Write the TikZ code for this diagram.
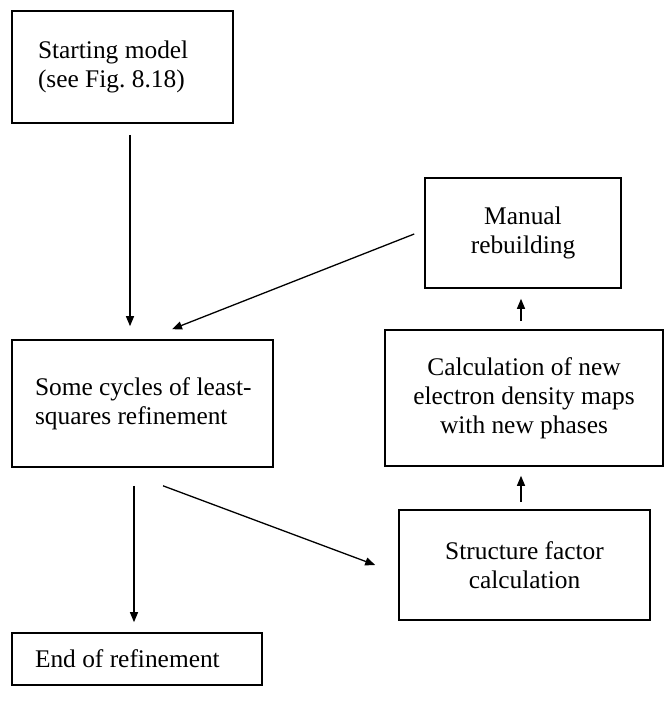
\documentclass[tikz,border=0pt]{standalone}
\usepackage{fontspec}
\setmainfont{Liberation Serif}
\usetikzlibrary{arrows.meta}
\tikzset{
	box/.style={draw, line width=0.8pt, inner ysep=0pt, font=\fontsize{12.7}{14.5}\selectfont},
	lbox/.style={box, align=flush left, inner xsep=#1},
	cbox/.style={box, align=center},
	arr/.style={line width=0.65pt, -{Triangle[length=5pt,width=4pt]}}
}
\begin{document}
\begin{tikzpicture}[x=0.5pt,y=-0.5pt]
	\useasboundingbox (0,0) rectangle (666,717);
	\node[lbox=13pt, text width=84.5pt, minimum height=56pt] (start) at (122.5,67) {\mbox{Starting model}\\\mbox{(see Fig.~8.18)}};%Startmodell
	\node[lbox=11.5pt, text width=107.5pt, minimum height=63.5pt] (cycles) at (142.5,403.5) {\mbox{Some cycles of least-}\\\mbox{squares refinement}};%Verfeinerung
	\node[lbox=11.5pt, text width=102pt, minimum height=26pt] (end) at (137,659) {\mbox{End of refinement}};%Ende
	\node[cbox, minimum width=98pt, minimum height=55pt] (manual) at (523,233) {Manual\\rebuilding};%manuell
	\node[cbox, minimum width=139pt, minimum height=68pt] (calc) at (524,398) {Calculation of new\\electron density maps\\with new phases};%Dichtekarten
	\node[cbox, minimum width=125.5pt, minimum height=55pt] (struct) at (524.5,565) {Structure factor\\calculation};%Strukturfaktoren

	\draw[arr, shorten <=5.5pt, shorten >=6.5pt] ([xshift=3.75pt]start.south) -- ([xshift=3.75pt]start.south |- cycles.north);%runter
	\draw[arr, shorten <=9pt, shorten >=5pt] ([xshift=-4.25pt]cycles.south) -- ([xshift=-4.25pt]cycles.south |- end.north);%runter
	\draw[arr] ([xshift=10.25pt,yshift=-9pt]cycles.south) -- ([xshift=-11.5pt]struct.west);%schraeg runter
	\draw[arr] ([xshift=-1.75pt,yshift=3.5pt]struct.north) -- ([xshift=-1.75pt,yshift=-4.5pt]struct.north |- calc.south);%hoch
	\draw[arr] ([xshift=-1.75pt,yshift=4pt]struct.north |- calc.north) -- ([xshift=-1.75pt,yshift=-5pt]struct.north |- manual.south);%hoch
	\draw[arr] ([xshift=-5pt,yshift=-0.5pt]manual.west) -- ([xshift=14.75pt,yshift=5pt]cycles.north);%zurueck
\end{tikzpicture}
\end{document}
